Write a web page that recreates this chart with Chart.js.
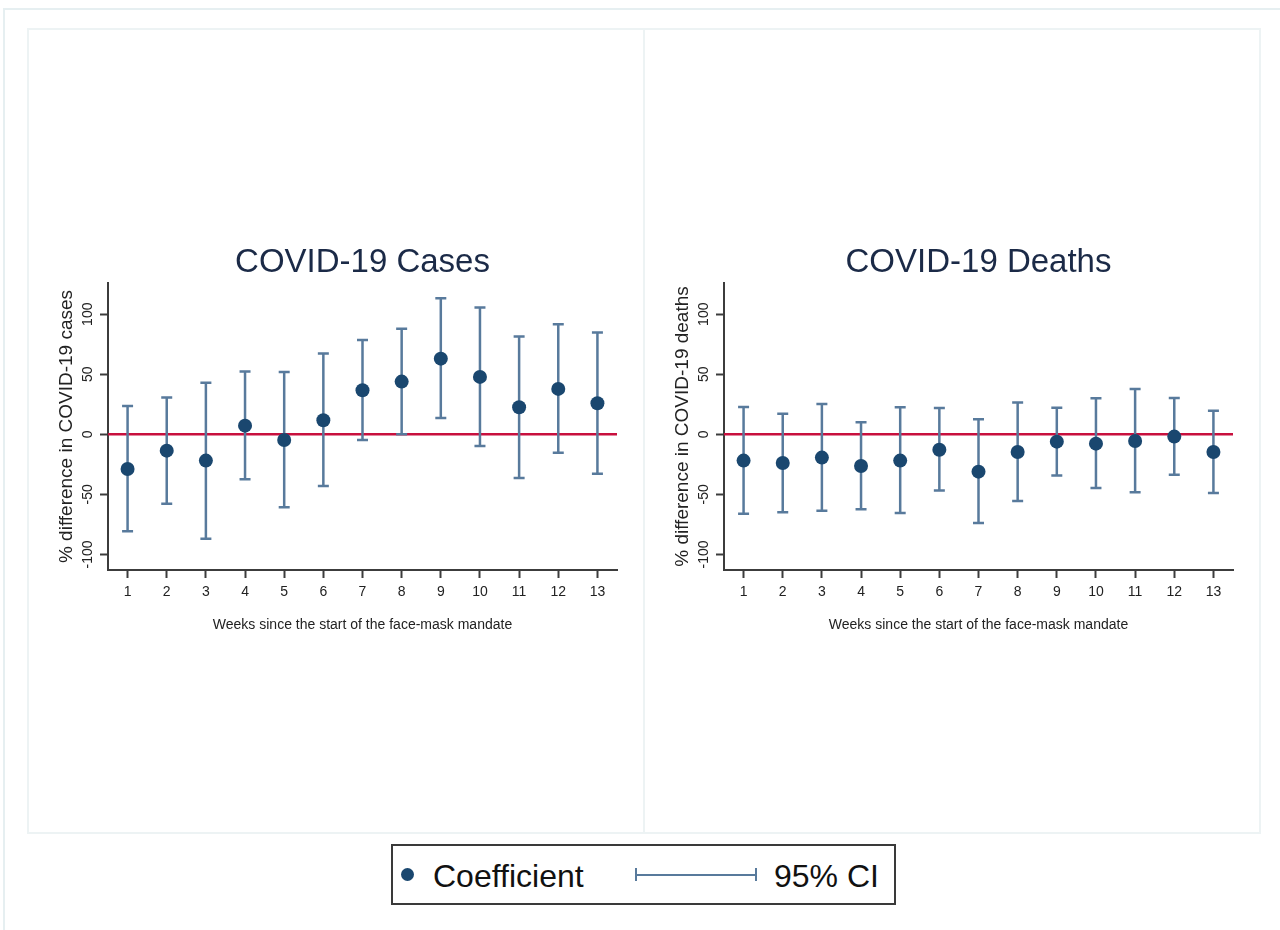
<!DOCTYPE html>
<html>
<head>
<meta charset="utf-8">
<title>Face-mask mandate event study</title>
<script src="https://cdn.jsdelivr.net/npm/chart.js@4.4.1/dist/chart.umd.min.js"></script>
<style>
  html, body { margin: 0; padding: 0; background: #fff; }
  #page { position: relative; width: 1280px; height: 930px; overflow: hidden; background: #fff;
          font-family: "Liberation Sans", Arial, sans-serif; }
  #frame { position: absolute; left: 3px; top: 8px; width: 1290px; height: 960px;
           border: 2px solid #e6eff1; box-sizing: border-box; }
  .pbox { position: absolute; top: 28px; width: 618px; height: 806px;
          border: 2px solid #edf3f4; box-sizing: border-box; }
  #boxL { left: 27px; }
  #boxR { left: 643px; }
  .panel { position: absolute; top: 29px; width: 616px; height: 803px; }
  #panelL { left: 28px; }
  #panelR { left: 644px; }
  #legend { position: absolute; left: 391px; top: 844px; width: 505px; height: 61px;
            border: 2px solid #3a3a3a; box-sizing: border-box; background: #fff; }
  #legend .dot { position: absolute; left: 8px; top: 22px; width: 13px; height: 13px;
                 border-radius: 50%; background: #1a476f; }
  #legend .lab { position: absolute; top: 15px; font-size: 32px; line-height: 31px;
                 color: #111; white-space: nowrap; }
  #legend .ci { position: absolute; left: 242px; top: 22px; width: 122px; height: 13px;
                border-left: 2px solid #587a9c; border-right: 2px solid #587a9c; box-sizing: border-box; }
  #legend .ci::after { content: ""; position: absolute; left: 0; right: 0; top: 5.5px; height: 2px;
                       background: #587a9c; }
</style>
</head>
<body>
<div id="page">
  <div id="frame"></div>
  <div class="pbox" id="boxL"></div>
  <div class="pbox" id="boxR"></div>
  <div class="panel" id="panelL"><canvas id="casesChart" width="616" height="803"></canvas></div>
  <div class="panel" id="panelR"><canvas id="deathsChart" width="616" height="803"></canvas></div>
  <div id="legend">
    <span class="dot"></span>
    <span class="lab" style="left:40px">Coefficient</span>
    <span class="ci"></span>
    <span class="lab" style="left:381px">95% CI</span>
  </div>
</div>
<script>
// Weeks since the start of the mandate
const weeks = [1, 2, 3, 4, 5, 6, 7, 8, 9, 10, 11, 12, 13];

// COVID-19 cases: % difference, point estimate and 95% CI bounds
const casesCoef  = [-28.9, -13.6, -21.9,   7.2,  -4.7,  11.7, 36.7, 43.9,  63.0,  47.8,  22.5,  37.8,  25.8];
const casesLower = [-80.8, -57.8, -86.9, -37.5, -60.8, -43.0, -4.7,  0.0,  13.6,  -9.7, -36.4, -15.3, -32.8];
const casesUpper = [ 23.6,  30.6,  43.0,  52.2,  51.9,  67.2, 78.6, 88.0, 113.3, 105.6,  81.4,  91.7,  84.7];

// COVID-19 deaths: % difference, point estimate and 95% CI bounds
const deathsCoef  = [-21.9, -23.9, -19.4, -26.4, -21.9, -12.8, -31.1, -14.7,  -6.1,  -7.8,  -5.6,  -1.9, -14.7];
const deathsLower = [-66.1, -65.0, -63.6, -62.5, -65.6, -46.7, -73.9, -55.6, -34.4, -44.7, -48.3, -33.6, -48.9];
const deathsUpper = [ 22.8,  17.2,  25.3,  10.0,  22.5,  21.9,  12.5,  26.4,  22.2,  30.0,  37.8,  30.3,  19.7];

// Axis ticks
const yTickValues = [-100, -50, 0, 50, 100];
const xTickValues = weeks;

const NAVY = '#1a476f';
const CI_COLOR = '#587a9c';
const REF_COLOR = '#c8103e';
const AXIS_COLOR = '#3c3c3c';
const TEXT_COLOR = '#222';
const FONT = '"Liberation Sans", Arial, sans-serif';

Chart.defaults.font.family = FONT;

// Draws the zero reference line, the capped CI bars and the rotated y tick labels
function makeIntervalPlugin(lower, upper) {
  return {
    id: 'intervals',
    beforeDatasetsDraw(chart) {
      const { ctx, chartArea, scales: { x, y } } = chart;
      ctx.save();
      const y0 = y.getPixelForValue(0);
      ctx.strokeStyle = REF_COLOR;
      ctx.lineWidth = 2.5;
      ctx.beginPath();
      ctx.moveTo(chartArea.left, y0);
      ctx.lineTo(chartArea.right, y0);
      ctx.stroke();

      ctx.strokeStyle = CI_COLOR;
      ctx.lineWidth = 2.5;
      const cap = 5.5;
      weeks.forEach((w, i) => {
        const px = x.getPixelForValue(w);
        const pLo = y.getPixelForValue(lower[i]);
        const pHi = y.getPixelForValue(upper[i]);
        ctx.beginPath();
        ctx.moveTo(px, pLo); ctx.lineTo(px, pHi);
        ctx.moveTo(px - cap, pLo); ctx.lineTo(px + cap, pLo);
        ctx.moveTo(px - cap, pHi); ctx.lineTo(px + cap, pHi);
        ctx.stroke();
      });
      ctx.restore();
    },
    afterDraw(chart) {
      const { ctx, scales: { y } } = chart;
      ctx.save();
      ctx.fillStyle = TEXT_COLOR;
      ctx.font = '14px ' + FONT;
      ctx.textAlign = 'center';
      ctx.textBaseline = 'middle';
      const lx = y.right - 20;
      yTickValues.forEach(v => {
        const py = y.getPixelForValue(v);
        ctx.save();
        ctx.translate(lx, py);
        ctx.rotate(-Math.PI / 2);
        ctx.fillText(String(v), 0, 0);
        ctx.restore();
      });
      ctx.restore();
    }
  };
}

function buildChart(canvasId, titleText, yTitle, coef, lower, upper) {
  const points = weeks.map((w, i) => ({ x: w, y: coef[i] }));
  return new Chart(document.getElementById(canvasId), {
    type: 'scatter',
    data: {
      datasets: [{
        label: 'Coefficient',
        data: points,
        pointRadius: 7,
        pointHoverRadius: 7,
        pointBackgroundColor: NAVY,
        pointBorderColor: NAVY,
        pointBorderWidth: 0
      }]
    },
    options: {
      responsive: false,
      animation: false,
      devicePixelRatio: 1,
      events: [],
      layout: { padding: { top: 214.2, bottom: 198.6, left: 27.6, right: 27 } },
      plugins: {
        legend: { display: false },
        tooltip: { enabled: false },
        title: {
          display: true,
          text: titleText,
          fullSize: false,
          color: '#1b2a47',
          font: { size: 33, weight: 'normal', lineHeight: 1.2 },
          padding: { top: 0, bottom: 0.2 }
        }
      },
      scales: {
        x: {
          type: 'linear',
          min: 0.5,
          max: 13.5,
          afterBuildTicks: (scale) => { scale.ticks = xTickValues.map(v => ({ value: v })); },
          afterFit: (scale) => { scale.height = 63.4; },
          ticks: {
            color: TEXT_COLOR,
            font: { size: 14, lineHeight: 1.2 },
            padding: 6,
            maxRotation: 0,
            autoSkip: false,
            callback: (v) => String(v)
          },
          grid: { drawOnChartArea: false, drawTicks: true, tickLength: 8, color: AXIS_COLOR, tickWidth: 2 },
          border: { display: true, color: AXIS_COLOR, width: 2 },
          title: {
            display: true,
            text: 'Weeks since the start of the face-mask mandate',
            color: TEXT_COLOR,
            font: { size: 14, lineHeight: 1.2 },
            padding: 0
          }
        },
        y: {
          type: 'linear',
          min: -113,
          max: 126,
          afterBuildTicks: (scale) => { scale.ticks = yTickValues.map(v => ({ value: v })); },
          afterFit: (scale) => { scale.width = 52.4; },
          ticks: { display: false },
          grid: { drawOnChartArea: false, drawTicks: true, tickLength: 8, color: AXIS_COLOR, tickWidth: 2 },
          border: { display: true, color: AXIS_COLOR, width: 2 },
          title: {
            display: true,
            text: yTitle,
            color: TEXT_COLOR,
            font: { size: 19, lineHeight: 1.2 },
            padding: 0
          }
        }
      }
    },
    plugins: [makeIntervalPlugin(lower, upper)]
  });
}

buildChart('casesChart', 'COVID-19 Cases', '% difference in COVID-19 cases', casesCoef, casesLower, casesUpper);
buildChart('deathsChart', 'COVID-19 Deaths', '% difference in COVID-19 deaths', deathsCoef, deathsLower, deathsUpper);
</script>
</body>
</html>
